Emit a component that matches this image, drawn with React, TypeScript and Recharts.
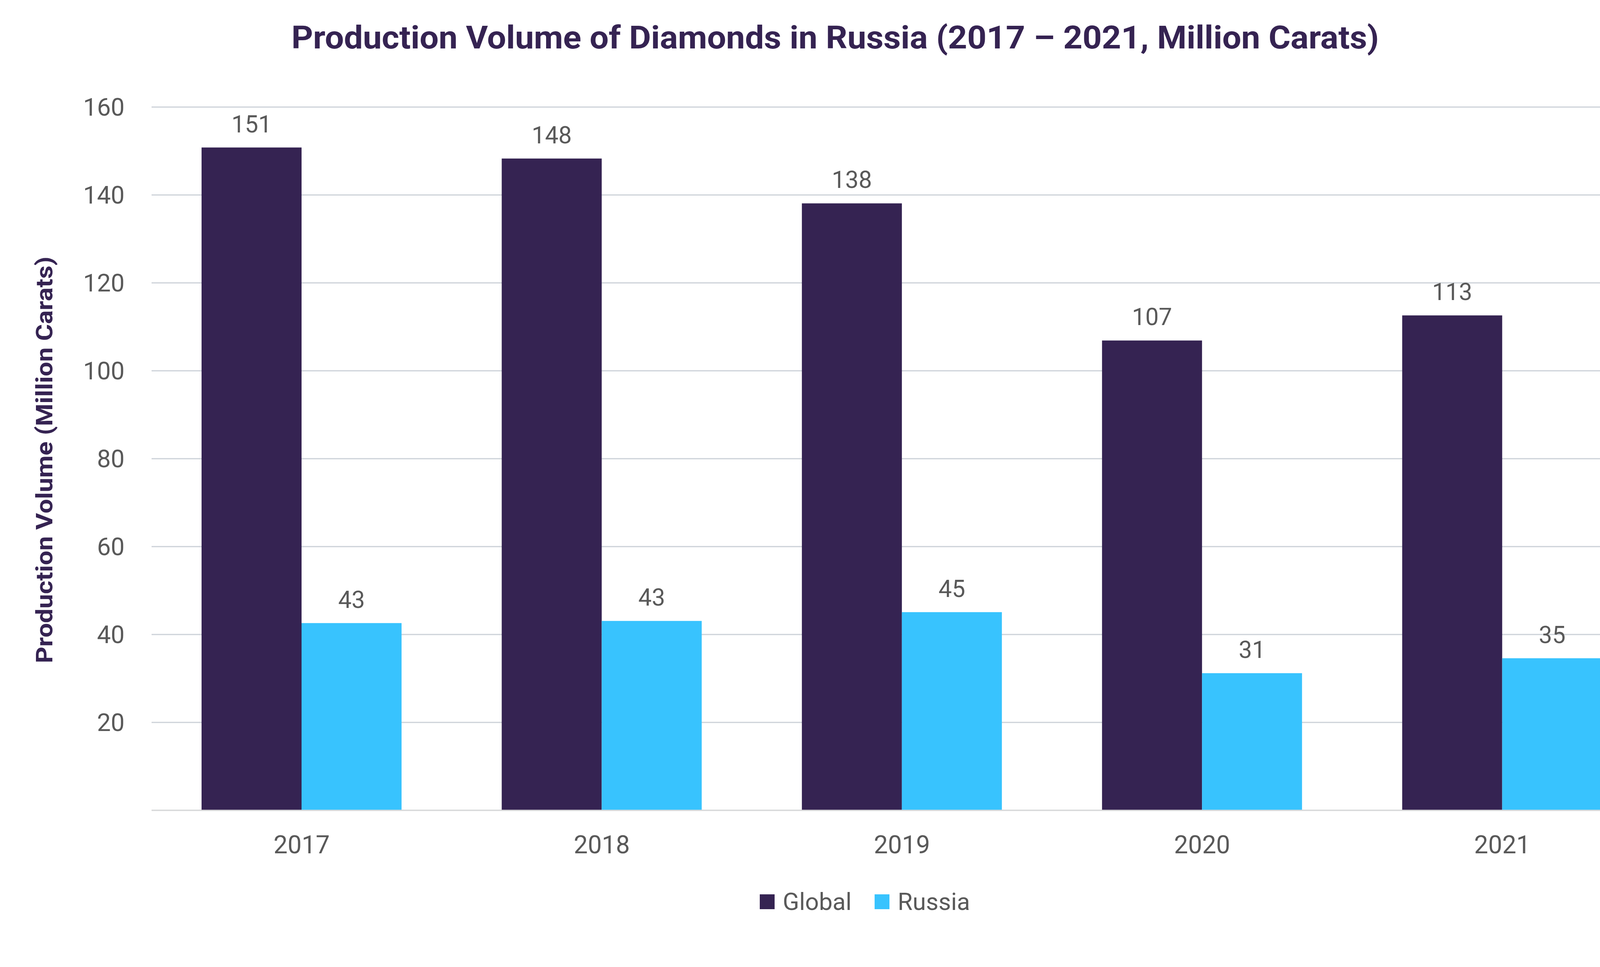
import { BarChart, Bar, XAxis, YAxis, CartesianGrid, Legend, LabelList } from 'recharts';

// values (million carats)
const years = ['2017', '2018', '2019', '2020', '2021'];
const globalOutput = [150.8, 148.3, 138.1, 106.9, 112.6];
const russiaOutput = [42.6, 43.1, 45.1, 31.2, 34.6];
const yTicks = [20, 40, 60, 80, 100, 120, 140, 160];

const TITLE = 'Production Volume of Diamonds in Russia (2017 – 2021, Million Carats)';
const Y_LABEL = 'Production Volume (Million Carats)';

const GLOBAL_COLOR = '#352352';
const RUSSIA_COLOR = '#38c3fe';
const TITLE_COLOR = '#352352';
const TEXT_GRAY = '#595959';
const FONT = 'Roboto, "Noto Sans", sans-serif';

const chartData = years.map((year, i) => ({
  year,
  Global: globalOutput[i],
  Russia: russiaOutput[i],
}));

function LegendContent({ payload }: any) {
  return (
    <div
      style={{
        display: 'flex',
        justifyContent: 'center',
        alignItems: 'center',
        height: 44,
        paddingLeft: 28,
        fontFamily: FONT,
        fontSize: 62,
        color: TEXT_GRAY,
      }}
    >
      {(payload || []).map((entry: any, i: number) => (
        <div key={entry.value} style={{ display: 'flex', alignItems: 'center', marginLeft: i ? 59 : 0 }}>
          <span style={{ display: 'inline-block', width: 38, height: 38, background: entry.color, marginRight: 21 }} />
          <span style={{ lineHeight: '44px' }}>{entry.value}</span>
        </div>
      ))}
    </div>
  );
}

export default function App() {
  return (
    <div style={{ position: 'absolute', left: 0, top: 0, width: 4400, height: 2475, background: '#fff' }}>
      <BarChart
        width={4400}
        height={2475}
        data={chartData}
        margin={{ top: 274, right: 170, bottom: 301, left: 88 }}
        barGap={0}
      >
        <CartesianGrid vertical={false} stroke="#ccd1d8" strokeWidth={3} />
        <XAxis
          dataKey="year"
          height={100}
          axisLine={{ stroke: '#d9d9d9', strokeWidth: 3 }}
          tickLine={false}
          tickSize={0}
          tickMargin={65}
          tick={{ fill: TEXT_GRAY, fontSize: 64, fontFamily: FONT }}
        />
        <YAxis
          width={300}
          domain={[0, 160]}
          ticks={yTicks}
          axisLine={false}
          tickLine={false}
          tickSize={0}
          tickMargin={69}
          tick={{ fill: TEXT_GRAY, fontSize: 63, fontFamily: FONT }}
        />
        <Legend
          layout="horizontal"
          verticalAlign="middle"
          align="center"
          wrapperStyle={{ top: 2286, left: 0, width: 4400 }}
          content={<LegendContent />}
        />
        <Bar dataKey="Global" fill={GLOBAL_COLOR} barSize={256} isAnimationActive={false}>
          <LabelList
            dataKey="Global"
            position="top"
            offset={39}
            formatter={(v: any) => Math.round(Number(v))}
            style={{ fill: TEXT_GRAY, fontSize: 61, fontFamily: FONT }}
          />
        </Bar>
        <Bar dataKey="Russia" fill={RUSSIA_COLOR} barSize={256} isAnimationActive={false}>
          <LabelList
            dataKey="Russia"
            position="top"
            offset={39}
            formatter={(v: any) => Math.round(Number(v))}
            style={{ fill: TEXT_GRAY, fontSize: 61, fontFamily: FONT }}
          />
        </Bar>
      </BarChart>
      <svg
        width={4400}
        height={2475}
        style={{ position: 'absolute', left: 0, top: 0, pointerEvents: 'none' }}
      >
        <text
          x={2138}
          y={124}
          textAnchor="middle"
          fontFamily={FONT}
          fontWeight={700}
          fontSize={82}
          fill={TITLE_COLOR}
          textLength={2784}
          lengthAdjust="spacingAndGlyphs"
        >
          {TITLE}
        </text>
        <text
          transform="translate(134,1177) rotate(-90)"
          textAnchor="middle"
          fontFamily={FONT}
          fontWeight={700}
          fontSize={59}
          fill={TITLE_COLOR}
          textLength={1041}
          lengthAdjust="spacingAndGlyphs"
        >
          {Y_LABEL}
        </text>
      </svg>
    </div>
  );
}
